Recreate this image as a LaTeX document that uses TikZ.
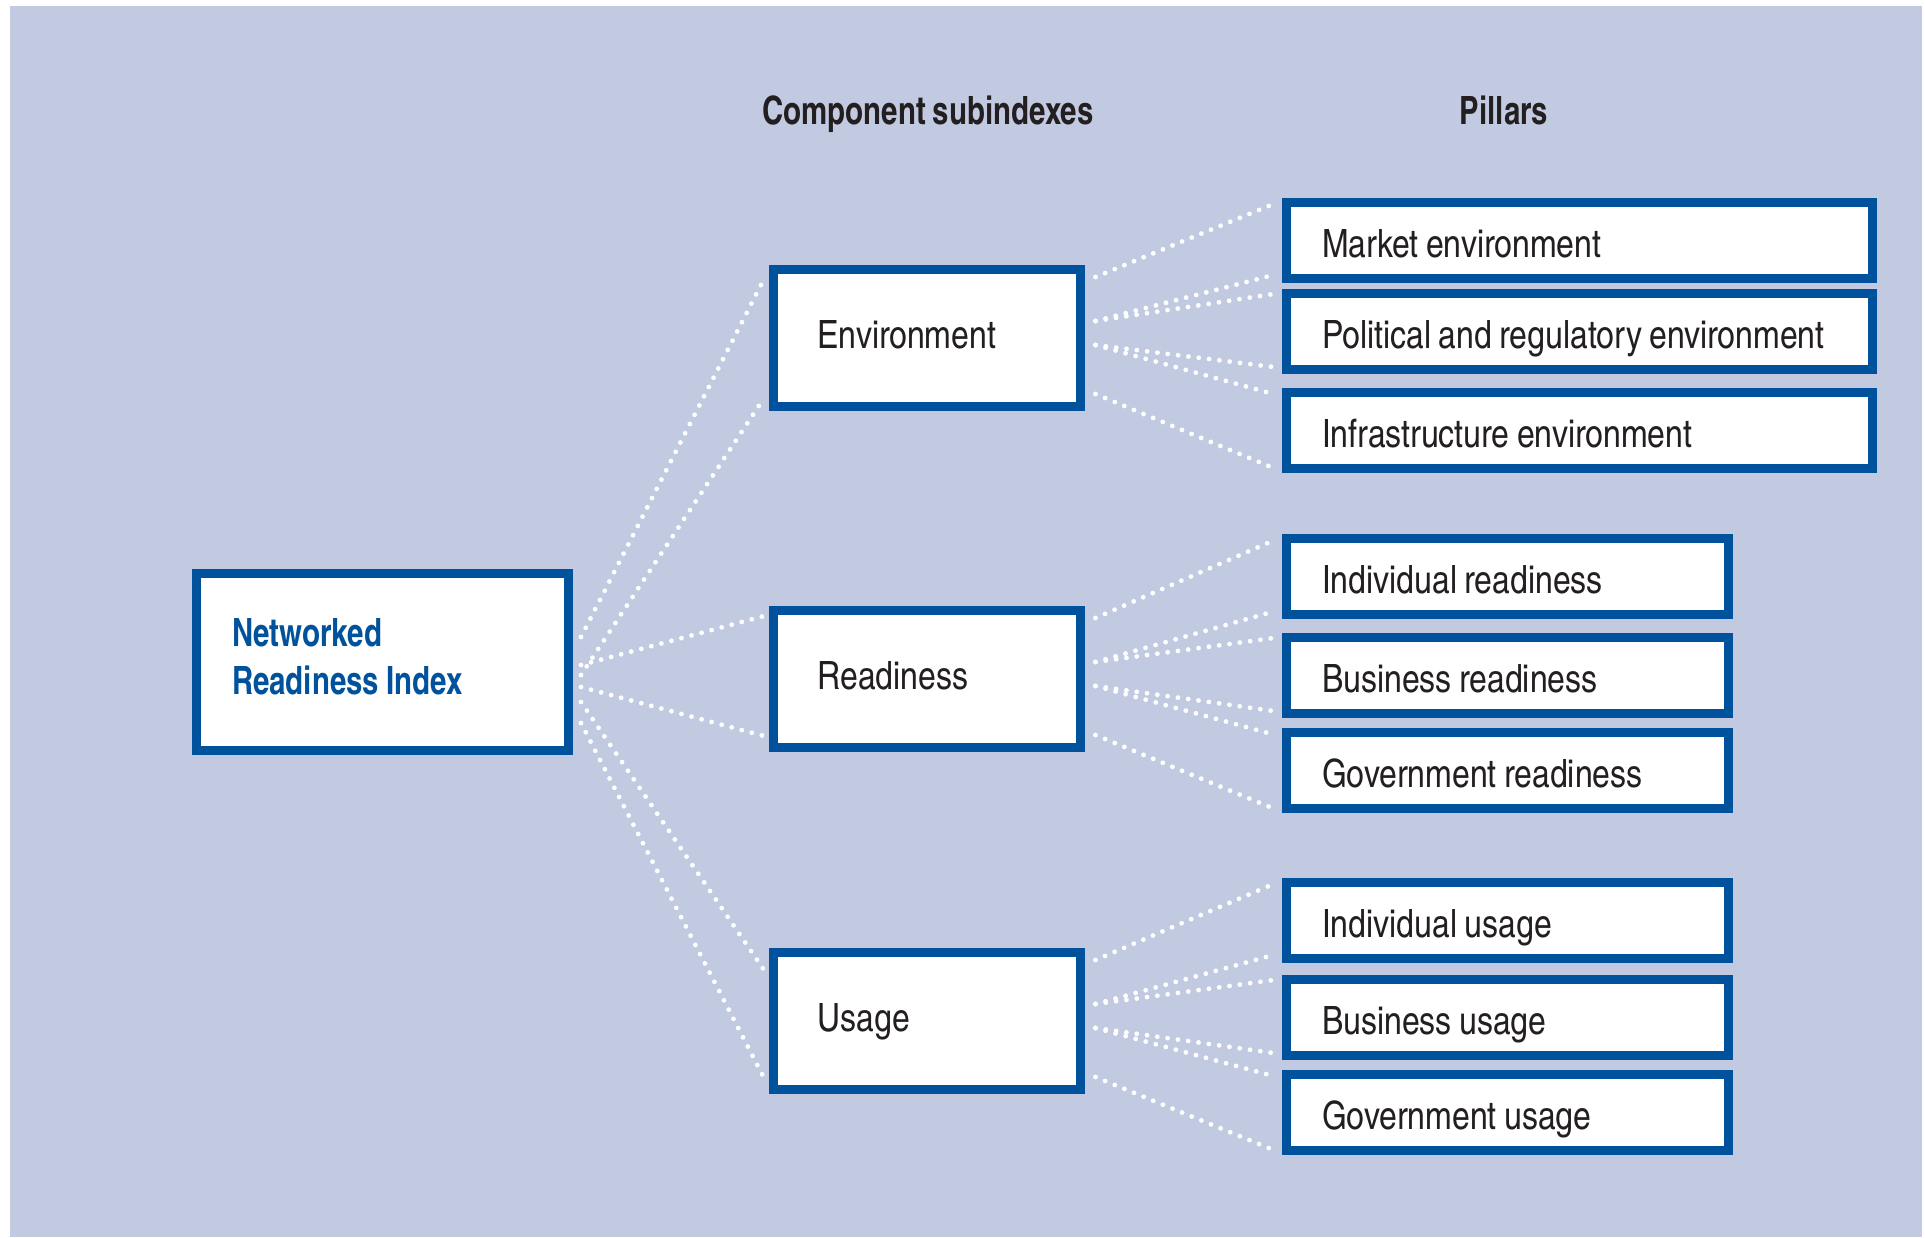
\documentclass[tikz,border=0pt]{standalone}
\usepackage{fontspec}
\setmainfont{TeX Gyre Heros Cn}[WordSpace=0.85, BoldFeatures={FakeStretch=0.92}]
\usetikzlibrary{calc}
\definecolor{bgc}{RGB}{194,202,226}
\definecolor{nriblue}{RGB}{0,82,156}
\definecolor{txt}{RGB}{35,31,32}
\tikzset{
  box/.style={draw=nriblue, line width=4.5pt, fill=white, rectangle, inner ysep=0pt,
    align=flush left, text=txt, font=\fontsize{19.5}{24}\selectfont},
  pillarA/.style={box, minimum height=38pt, inner xsep=17.75pt, text width=257.5pt,
    text height=17pt, text depth=0pt},
  pillarB/.style={box, minimum height=38pt, inner xsep=17.75pt, text width=185.5pt,
    text height=17pt, text depth=0pt},
  subbox/.style={box, minimum height=68.5pt, inner xsep=22pt, text width=109.5pt,
    text height=10pt, text depth=0pt},
  nribox/.style={box, minimum height=88.5pt, inner xsep=17.75pt, text width=150.5pt,
    text height=10pt, text depth=26pt,
    text=nriblue, font=\fontsize{19.5}{24}\selectfont\bfseries},
  heading/.style={text=txt, font=\fontsize{19.5}{24}\selectfont\bfseries, inner sep=0pt, anchor=base},
  link/.style={white, line width=2.4pt, line cap=round, dash pattern=on 0pt off 5.2pt}
}
\begin{document}
\begin{tikzpicture}[x=0.5pt,y=-0.5pt]
\useasboundingbox (0,0) rectangle (1925,1237);
\fill[bgc] (10,6) rectangle (1922,1237);

\node[heading] (h1) at (928,124) {Component subindexes};
\node[heading] (h2) at (1504,124) {Pillars};

\node[nribox] (nri) at (382.5,662) {Networked\\Readiness Index};

\node[subbox] (env) at (927,338) {Environment};
\node[subbox] (rea) at (927,679) {Readiness};
\node[subbox] (usa) at (927,1021) {Usage};

\node[pillarA] (p1) at (1579.5,240) {\mbox{Market environment}};
\node[pillarA] (p2) at (1579.5,331) {\mbox{Political and regulatory environment}};
\node[pillarA] (p3) at (1579.5,430) {\mbox{Infrastructure environment}};

\node[pillarB] (p4) at (1507.5,576.5) {\mbox{Individual readiness}};
\node[pillarB] (p5) at (1507.5,675) {\mbox{Business readiness}};
\node[pillarB] (p6) at (1507.5,770.5) {\mbox{Government readiness}};

\node[pillarB] (p7) at (1507.5,920) {\mbox{Individual usage}};
\node[pillarB] (p8) at (1507.5,1017) {\mbox{Business usage}};
\node[pillarB] (p9) at (1507.5,1112) {\mbox{Government usage}};

% NRI to subindexes
\draw[link] ($(nri.east)+(8,-25)$) -- ($(env.west)+(-5,-59)$);
\draw[link] ($(nri.east)+(8,13)$) -- ($(env.west)+(-5,60)$);
\draw[link] ($(nri.east)+(8,3)$) -- ($(rea.west)+(-5,-63)$);
\draw[link] ($(nri.east)+(8,25)$) -- ($(rea.west)+(-5,57)$);
\draw[link] ($(nri.east)+(8,40)$) -- ($(usa.west)+(-5,-51)$);
\draw[link] ($(nri.east)+(8,61)$) -- ($(usa.west)+(-5,57)$);

% subindexes to pillars
\foreach \s/\a/\b/\c in {env/p1/p2/p3, rea/p4/p5/p6, usa/p7/p8/p9}{
  \draw[link] ($(\s.east)+(10.5,-61)$) -- ($(\a.west)+(-8.5,-36)$);
  \draw[link] ($(\s.east)+(10.5,-17)$) -- ($(\a.west)+(-8.5,35)$);
  \draw[link] ($(\s.east)+(10.5,-17)$) -- ($(\b.west)+(-8.5,-37)$);
  \draw[link] ($(\s.east)+(10.5,7)$) -- ($(\b.west)+(-8.5,36)$);
  \draw[link] ($(\s.east)+(10.5,7)$) -- ($(\c.west)+(-8.5,-36)$);
  \draw[link] ($(\s.east)+(10.5,56)$) -- ($(\c.west)+(-8.5,38)$);
}
\end{tikzpicture}
\end{document}
